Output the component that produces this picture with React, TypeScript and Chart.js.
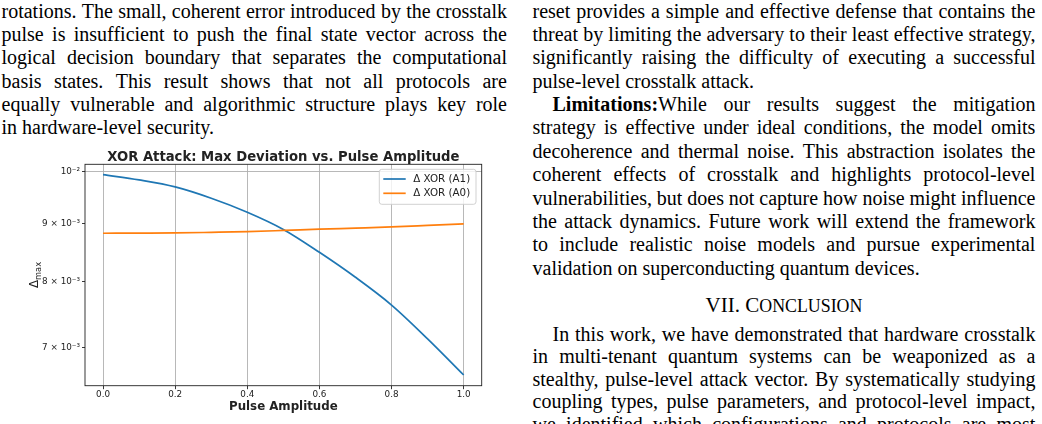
import React, { useEffect, useRef } from "react";
import { Chart, registerables } from "chart.js";

Chart.register(...registerables);

// ---------- chart data ----------
const amplitude = [0, 0.1, 0.2, 0.3, 0.4, 0.5, 0.6, 0.7, 0.8, 0.9, 1.0];
const deltaXorA1 = [0.00994, 0.009833, 0.009694, 0.009474, 0.009209, 0.008893, 0.008489, 0.008069, 0.007627, 0.007121, 0.006617];
const deltaXorA0 = [0.008824, 0.008826, 0.008829, 0.00884, 0.008853, 0.008874, 0.008897, 0.008917, 0.008938, 0.008965, 0.008993];
const seriesLabels = ["Δ XOR (A1)", "Δ XOR (A0)"];
const seriesColors = ["#1f77b4", "#ff7f0e"];
const xTickValues = [0, 0.2, 0.4, 0.6, 0.8, 1.0];
const yTickValues = [0.007, 0.008, 0.009, 0.01];
const yTickLabels = ["7 × 10⁻³", "8 × 10⁻³", "9 × 10⁻³", "10⁻²"];
const xMin = -0.05;
const xMax = 1.05;
const yMin = 0.006475;
const yMax = 0.01015;
const chartTitle = "XOR Attack: Max Deviation vs. Pulse Amplitude";
const xAxisTitle = "Pulse Amplitude";
const yAxisSymbol = "Δ";
const yAxisSub = "max";

// ---------- page text ----------
type TLine = { t: string; j: boolean; indent?: boolean; bold?: string };

const leftLines: TLine[] = [
  { t: "rotations. The small, coherent error introduced by the crosstalk", j: true },
  { t: "pulse is insufficient to push the final state vector across the", j: true },
  { t: "logical decision boundary that separates the computational", j: true },
  { t: "basis states. This result shows that not all protocols are", j: true },
  { t: "equally vulnerable and algorithmic structure plays key role", j: true },
  { t: "in hardware-level security.", j: false },
];

const rightTopLines: TLine[] = [
  { t: "reset provides a simple and effective defense that contains the", j: true },
  { t: "threat by limiting the adversary to their least effective strategy,", j: true },
  { t: "significantly raising the difficulty of executing a successful", j: true },
  { t: "pulse-level crosstalk attack.", j: false },
  { t: "While our results suggest the mitigation", j: true, indent: true, bold: "Limitations:" },
  { t: "strategy is effective under ideal conditions, the model omits", j: true },
  { t: "decoherence and thermal noise. This abstraction isolates the", j: true },
  { t: "coherent effects of crosstalk and highlights protocol-level", j: true },
  { t: "vulnerabilities, but does not capture how noise might influence", j: true },
  { t: "the attack dynamics. Future work will extend the framework", j: true },
  { t: "to include realistic noise models and pursue experimental", j: true },
  { t: "validation on superconducting quantum devices.", j: false },
];

const sectionNumber = "VII. C";
const sectionRest = "ONCLUSION";

const rightBottomLines: TLine[] = [
  { t: "In this work, we have demonstrated that hardware crosstalk", j: true, indent: true },
  { t: "in multi-tenant quantum systems can be weaponized as a", j: true },
  { t: "stealthy, pulse-level attack vector. By systematically studying", j: true },
  { t: "coupling types, pulse parameters, and protocol-level impact,", j: true },
  { t: "we identified which configurations and protocols are most", j: true },
];

const FONT = '"Liberation Serif", "Times New Roman", serif';
const FS = 20;
const PITCH = 23.4;

function TextLine({ line, pitch }: { line: TLine; pitch: number }) {
  const words = line.t.split(" ");
  const base: React.CSSProperties = {
    height: pitch,
    lineHeight: pitch + "px",
    whiteSpace: "nowrap",
    paddingLeft: line.indent ? 20 : 0,
    boxSizing: "border-box",
  };
  if (line.j) {
    return (
      <div style={{ ...base, display: "flex", justifyContent: "space-between" }}>
        {words.map((w, i) => (
          <span key={i}>
            {i === 0 && line.bold ? <b>{line.bold}</b> : null}
            {w}
          </span>
        ))}
      </div>
    );
  }
  return (
    <div style={base}>
      {line.bold ? <b>{line.bold}</b> : null}
      {line.t}
    </div>
  );
}

function Block({ lines, left, top, width, pitch }: { lines: TLine[]; left: number; top: number; width: number; pitch: number }) {
  return (
    <div style={{ position: "absolute", left, top, width }}>
      {lines.map((l, i) => (
        <TextLine key={i} line={l} pitch={pitch} />
      ))}
    </div>
  );
}

const decorPlugin = {
  id: "decor",
  afterDraw(chart: any) {
    const { ctx, chartArea } = chart;
    const { left, top, right, bottom } = chartArea;
    ctx.save();
    // frame
    ctx.strokeStyle = "#222";
    ctx.lineWidth = 0.9;
    ctx.strokeRect(left, top, right - left, bottom - top);

    // title
    ctx.fillStyle = "#222";
    ctx.font = "bold 13.2px 'DejaVu Sans'";
    ctx.textAlign = "center";
    ctx.textBaseline = "alphabetic";
    ctx.fillText(chartTitle, (left + right) / 2, top - 3.6);

    // y axis title with subscript
    const bigFont = "11.8px 'DejaVu Sans'";
    const smallFont = "8.3px 'DejaVu Sans'";
    ctx.font = bigFont;
    const w1 = ctx.measureText(yAxisSymbol).width;
    ctx.font = smallFont;
    const w2 = ctx.measureText(yAxisSub).width;
    const total = w1 + w2;
    ctx.translate(36, (top + bottom) / 2);
    ctx.rotate(-Math.PI / 2);
    ctx.textAlign = "left";
    ctx.font = bigFont;
    ctx.fillText(yAxisSymbol, -total / 2, 2);
    ctx.font = smallFont;
    ctx.fillText(yAxisSub, -total / 2 + w1, 4.6);
    ctx.restore();

    // legend
    ctx.save();
    const lx = 379.3, ly = 29.3, lw = 96.7, lh = 35;
    const r = 2.5;
    ctx.beginPath();
    ctx.moveTo(lx + r, ly);
    ctx.lineTo(lx + lw - r, ly);
    ctx.quadraticCurveTo(lx + lw, ly, lx + lw, ly + r);
    ctx.lineTo(lx + lw, ly + lh - r);
    ctx.quadraticCurveTo(lx + lw, ly + lh, lx + lw - r, ly + lh);
    ctx.lineTo(lx + r, ly + lh);
    ctx.quadraticCurveTo(lx, ly + lh, lx, ly + lh - r);
    ctx.lineTo(lx, ly + r);
    ctx.quadraticCurveTo(lx, ly, lx + r, ly);
    ctx.closePath();
    ctx.fillStyle = "rgba(255,255,255,0.8)";
    ctx.fill();
    ctx.strokeStyle = "#cccccc";
    ctx.lineWidth = 0.9;
    ctx.stroke();
    ctx.font = "10.3px 'DejaVu Sans'";
    ctx.textBaseline = "middle";
    ctx.textAlign = "left";
    seriesLabels.forEach((lab, i) => {
      const yy = ly + 9.7 + i * 14.3;
      ctx.strokeStyle = seriesColors[i];
      ctx.lineWidth = 1.7;
      ctx.beginPath();
      ctx.moveTo(lx + 4, yy);
      ctx.lineTo(lx + 26.4, yy);
      ctx.stroke();
      ctx.fillStyle = "#222";
      ctx.fillText(lab, lx + 34, yy + 0.5);
    });
    ctx.restore();
  },
};

function ChartPanel() {
  const ref = useRef<HTMLCanvasElement>(null);
  useEffect(() => {
    const canvas = ref.current;
    if (!canvas) return;
    const tickFont = { family: "'DejaVu Sans'", size: 8.8 };
    const chart = new Chart(canvas, {
      type: "line",
      data: {
        datasets: [
          {
            label: seriesLabels[0],
            data: amplitude.map((a, i) => ({ x: a, y: deltaXorA1[i] })),
            borderColor: seriesColors[0],
            backgroundColor: seriesColors[0],
            borderWidth: 1.7,
            pointRadius: 0,
            cubicInterpolationMode: "monotone",
            fill: false,
            order: 1,
          },
          {
            label: seriesLabels[1],
            data: amplitude.map((a, i) => ({ x: a, y: deltaXorA0[i] })),
            borderColor: seriesColors[1],
            backgroundColor: seriesColors[1],
            borderWidth: 1.7,
            pointRadius: 0,
            cubicInterpolationMode: "monotone",
            fill: false,
            order: 0,
          },
        ],
      },
      options: {
        responsive: false,
        animation: false,
        devicePixelRatio: 1,
        layout: { padding: { top: 24.3, right: 18.3, bottom: 0, left: 0 } },
        plugins: {
          legend: { display: false },
          tooltip: { enabled: false },
          title: { display: false },
        },
        scales: {
          x: {
            type: "linear",
            min: xMin,
            max: xMax,
            bounds: "data",
            afterBuildTicks: (s: any) => {
              s.ticks = xTickValues.map((v) => ({ value: v }));
            },
            afterFit: (s: any) => {
              s.height = 38.3;
            },
            ticks: {
              callback: (v: any) => Number(v).toFixed(1),
              font: tickFont,
              color: "#222",
              padding: 0,
              maxRotation: 0,
              autoSkip: false,
            },
            grid: { color: "#b0b0b0", lineWidth: 0.9, tickColor: "#222", tickLength: 3.5 },
            border: { display: false },
            title: {
              display: true,
              text: xAxisTitle,
              color: "#222",
              font: { family: "'DejaVu Sans'", size: 11.8, weight: "bold" },
              padding: { top: 0, bottom: 10.2 },
            },
          },
          y: {
            type: "logarithmic",
            min: yMin,
            max: yMax,
            bounds: "data",
            afterBuildTicks: (s: any) => {
              s.ticks = yTickValues.map((v) => ({ value: v }));
            },
            afterFit: (s: any) => {
              s.width = 85;
            },
            ticks: {
              callback: (v: any) => {
                const idx = yTickValues.findIndex((t) => Math.abs(t - Number(v)) < 1e-9);
                return idx >= 0 ? yTickLabels[idx] : "";
              },
              font: tickFont,
              color: "#222",
              padding: 2,
              autoSkip: false,
            },
            grid: {
              color: (c: any) =>
                c.tick && Math.abs(c.tick.value - 0.01) < 1e-9 ? "#b0b0b0" : "rgba(0,0,0,0)",
              lineWidth: 0.9,
              tickColor: "#222",
              tickLength: 3,
            },
            border: { display: false },
            title: { display: false },
          },
        },
      },
      plugins: [decorPlugin],
    } as any);
    return () => chart.destroy();
  }, []);
  return (
    <canvas
      ref={ref}
      width={500}
      height={284}
      style={{ position: "absolute", left: 0, top: 140, width: 500, height: 284 }}
    />
  );
}

export default function App() {
  return (
    <div
      style={{
        position: "absolute",
        left: 0,
        top: 0,
        width: 1042,
        height: 424,
        overflow: "hidden",
        background: "#fff",
        fontFamily: FONT,
        fontSize: FS,
        color: "#000",
      }}
    >
      <Block lines={leftLines} left={1.5} top={-0.5} width={505.5} pitch={PITCH} />
      <Block lines={rightTopLines} left={532.5} top={-0.5} width={503} pitch={PITCH} />
      <div
        style={{
          position: "absolute",
          left: 532.5,
          top: 294,
          width: 503,
          textAlign: "center",
          lineHeight: PITCH + "px",
          whiteSpace: "nowrap",
          fontSize: 21,
        }}
      >
        {sectionNumber}
        <span style={{ fontSize: "0.85em" }}>{sectionRest}</span>
      </div>
      <Block lines={rightBottomLines} left={532.5} top={322.5} width={503} pitch={22.6} />
      <ChartPanel />
    </div>
  );
}
